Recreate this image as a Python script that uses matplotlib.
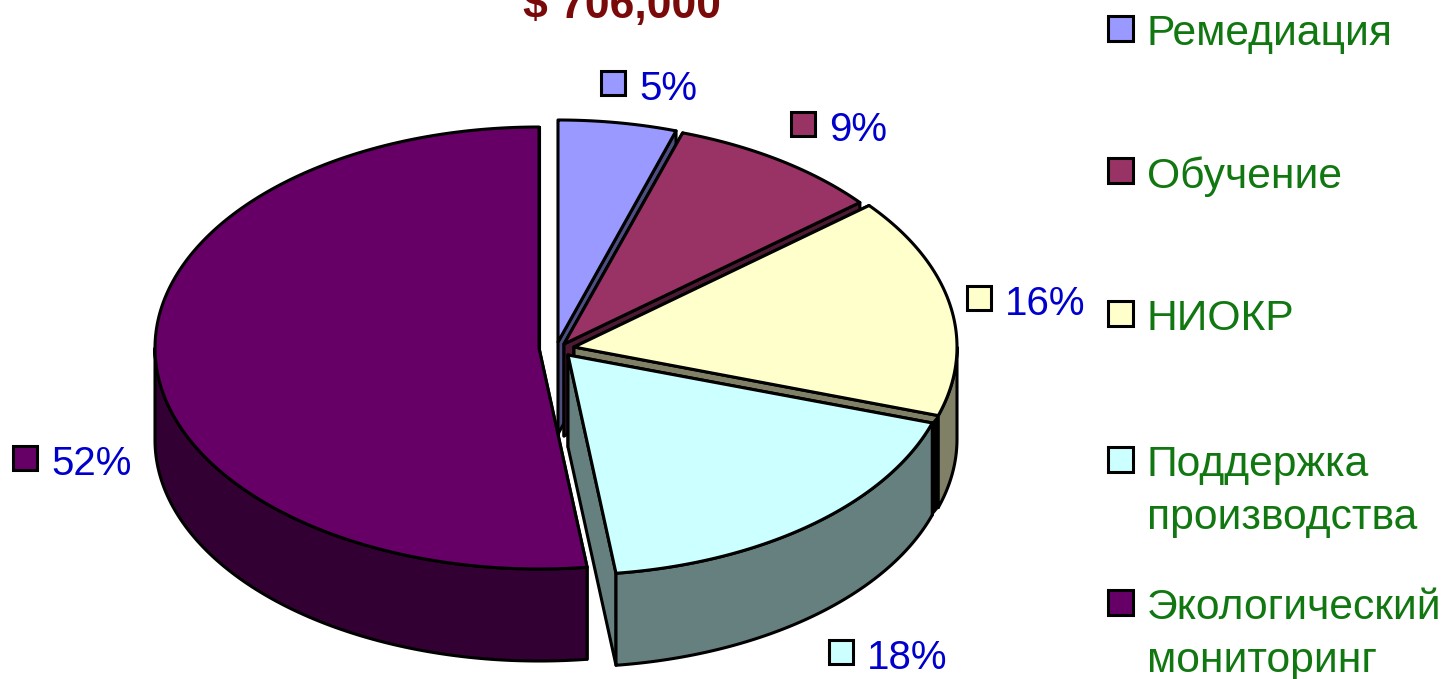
import numpy as np
import matplotlib
matplotlib.use("Agg")
import matplotlib.pyplot as plt
from matplotlib.patches import Polygon, Rectangle

plt.rcParams['font.family'] = ['Liberation Sans', 'DejaVu Sans']

names = ["Ремедиация", "Обучение", "НИОКР", "Поддержка\nпроизводства", "Экологический\nмониторинг"]
values = [5, 9, 16, 18, 52]
colors = ["#9999FF", "#993366", "#FFFFCC", "#CCFFFF", "#660066"]
side_colors = ["#4D4D80", "#4D1A33", "#808066", "#668080", "#330033"]
title = "$ 706,000"

# layout in pixels of the picture
centers = [(558, 342), (564, 344), (574, 347), (568, 355), (539, 348)]
radii = [(382, 222), (384, 222), (383, 222), (383, 220), (384, 221)]
depth = 92
label_pos = [(613, 83), (803, 124), (979, 298), (841, 652), (25, 458)]
legend_y = [29, 171, 314, 460, 603]

fig = plt.figure(figsize=(14.45, 6.79), dpi=100)
ax = fig.add_axes([0, 0, 1, 1])
ax.set_xlim(0, 1445)
ax.set_ylim(679, 0)
ax.axis("off")

edges = np.cumsum([0] + values) / sum(values) * 2 * np.pi


def rim(c, r, a, b, dy=0):
    t = np.linspace(a, b, 200)
    return np.column_stack([c[0] + r[0] * np.sin(t), c[1] + dy - r[1] * np.cos(t)])


def add(pts, fc, z):
    ax.add_patch(Polygon(pts, closed=True, fc=fc, ec="black", lw=2.2, joinstyle="round", zorder=z))


# back to front: yellow, blue, plum, then the big slice and light blue
order = [0, 1, 2, 4, 3]
for z, i in enumerate(order):
    c, r = centers[i], radii[i]
    a, b = edges[i], edges[i + 1]
    base = 10 * z
    cdown = np.array([c[0], c[1] + depth])

    # cut faces seen from the front
    first = rim(c, r, a, a)[0]
    last = rim(c, r, b, b)[0]
    add([c, first, first + [0, depth], cdown], side_colors[i], base)
    add([c, last, last + [0, depth], cdown], side_colors[i], base + 1)

    # outer wall, only the part facing the viewer
    lo, hi = max(a, np.pi / 2), min(b, 3 * np.pi / 2)
    if lo < hi:
        top = rim(c, r, lo, hi)
        low = rim(c, r, lo, hi, depth)
        add(np.vstack([top, low[::-1]]), side_colors[i], base + 2)

    # top face
    add(np.vstack([[c], rim(c, r, a, b)]), colors[i], base + 3)

    # data label
    lx, ly = label_pos[i]
    ax.add_patch(Rectangle((lx - 12, ly - 12), 24, 24, fc=colors[i], ec="black", lw=2.2, zorder=200))
    ax.text(lx + 26, ly + 6, f"{values[i]}%", color="#0000CC", fontsize=29, va="center", ha="left", zorder=200)

    # legend row
    ly = legend_y[i]
    ax.add_patch(Rectangle((1108, ly - 13), 25, 25, fc=colors[i], ec="black", lw=2.2, zorder=200))
    ax.text(1147, ly - 15, names[i], color="#117711", fontsize=30.7, va="top", ha="left",
            linespacing=1.42, zorder=200)

# dark gap between the yellow and light blue walls
yellow_end = rim(centers[2], radii[2], edges[3], edges[3])[0]
blue_start = rim(centers[3], radii[3], edges[3], edges[3])[0]
ax.add_patch(Polygon([blue_start, yellow_end, yellow_end + [0, depth], blue_start + [0, depth]],
                     closed=True, fc="black", ec="black", lw=1, zorder=25))

# the title is cut by the top edge, as in the original
ax.text(622, 18, title, color="#7A0A0A", fontsize=32, fontweight="bold", ha="center", va="baseline", zorder=200)

fig.savefig("out.png", dpi=100, facecolor="white")
